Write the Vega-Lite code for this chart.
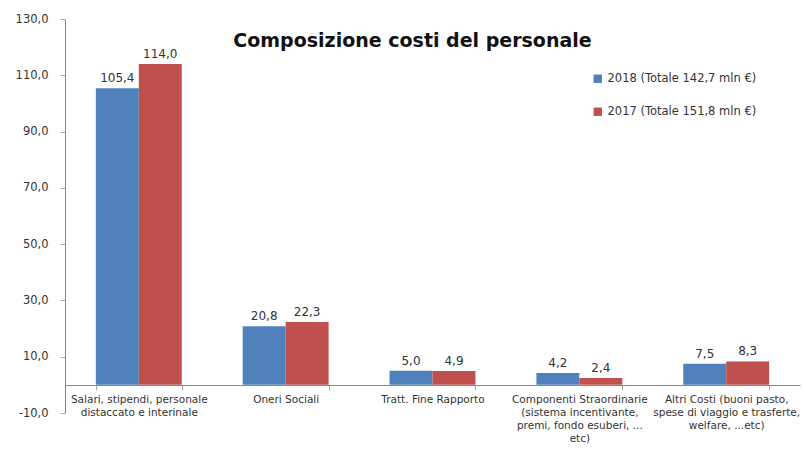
{
  "$schema": "https://vega.github.io/schema/vega-lite/v6.json",
  "width": 735,
  "height": 394,
  "autosize": "none",
  "padding": {"left": 65, "top": 19, "right": 2, "bottom": 37},
  "background": "white",
  "config": {
    "view": {"stroke": null},
    "font": "DejaVu Sans",
    "locale": {"number": {"decimal": ",", "thousands": ".", "grouping": [3], "currency": ["", " €"], "minus": "-"}}
  },
  "title": {
    "text": "Composizione  costi del personale",
    "anchor": "middle",
    "frame": "group",
    "orient": "top",
    "offset": -38,
    "dx": -20,
    "fontSize": 19,
    "fontWeight": "bold",
    "font": "DejaVu Sans",
    "color": "#111111"
  },
  "data": {
    "values": [
      {"cat": "Salari", "serie": "2018 (Totale 142,7 mln €)", "v": 105.4},
      {"cat": "Salari", "serie": "2017 (Totale 151,8 mln €)", "v": 114.0},
      {"cat": "Oneri", "serie": "2018 (Totale 142,7 mln €)", "v": 20.8},
      {"cat": "Oneri", "serie": "2017 (Totale 151,8 mln €)", "v": 22.3},
      {"cat": "TFR", "serie": "2018 (Totale 142,7 mln €)", "v": 5.0},
      {"cat": "TFR", "serie": "2017 (Totale 151,8 mln €)", "v": 4.9},
      {"cat": "Comp", "serie": "2018 (Totale 142,7 mln €)", "v": 4.2},
      {"cat": "Comp", "serie": "2017 (Totale 151,8 mln €)", "v": 2.4},
      {"cat": "Altri", "serie": "2018 (Totale 142,7 mln €)", "v": 7.5},
      {"cat": "Altri", "serie": "2017 (Totale 151,8 mln €)", "v": 8.3}
    ]
  },
  "encoding": {
    "x": {
      "field": "cat",
      "type": "nominal",
      "sort": ["Salari", "Oneri", "TFR", "Comp", "Altri"],
      "scale": {"paddingInner": 0.415, "paddingOuter": 0.21},
      "axis": {
        "title": null,
        "offset": -28,
        "labelAngle": 0,
        "labelFontSize": 10.5,
        "labelLineHeight": 13,
        "labelColor": "#333333",
        "labelPadding": 4,
        "labelOverlap": false,
        "domainColor": "#888888",
        "tickColor": "#aaaaaa",
        "tickBand": "extent",
        "tickSize": 5,
        "labelExpr": "datum.value == 'Salari' ? ['Salari, stipendi, personale', 'distaccato e interinale'] : datum.value == 'Oneri' ? 'Oneri Sociali' : datum.value == 'TFR' ? 'Tratt. Fine Rapporto' : datum.value == 'Comp' ? ['Componenti Straordinarie', '(sistema incentivante,', 'premi, fondo esuberi, ...', 'etc)'] : datum.value == 'Altri' ? ['Altri Costi  (buoni pasto,', 'spese di viaggio e trasferte,', 'welfare, ...etc)'] : ''"
      }
    },
    "xOffset": {"field": "serie", "type": "nominal", "sort": ["2018 (Totale 142,7 mln €)", "2017 (Totale 151,8 mln €)"], "scale": {"paddingInner": 0}},
    "y": {
      "field": "v",
      "type": "quantitative",
      "scale": {"domain": [-10, 130], "nice": false, "zero": false},
      "axis": {
        "title": null,
        "values": [-10, 10, 30, 50, 70, 90, 110, 130],
        "format": ".1f",
        "grid": false,
        "labelFontSize": 11.5,
        "labelColor": "#333333",
        "domainColor": "#888888",
        "tickColor": "#aaaaaa",
        "tickSize": 5,
        "labelPadding": 12
      }
    }
  },
  "layer": [
    {
      "mark": {"type": "bar"},
      "encoding": {
        "y2": {"datum": 0},
        "color": {
          "field": "serie",
          "type": "nominal",
          "sort": ["2018 (Totale 142,7 mln €)", "2017 (Totale 151,8 mln €)"],
          "scale": {"range": ["#4F81BD", "#C0504D"]},
          "legend": {
            "title": null,
            "orient": "none",
            "legendX": 527,
            "legendY": 54,
            "symbolType": "square",
            "symbolSize": 70,
            "labelFontSize": 11.5,
            "labelColor": "#333333",
            "rowPadding": 20,
            "symbolStrokeWidth": 0
          }
        }
      }
    },
    {
      "mark": {"type": "text", "dy": -10, "fontSize": 12, "color": "#333333"},
      "encoding": {
        "text": {"field": "v", "type": "quantitative", "format": ".1f"}
      }
    }
  ]
}
